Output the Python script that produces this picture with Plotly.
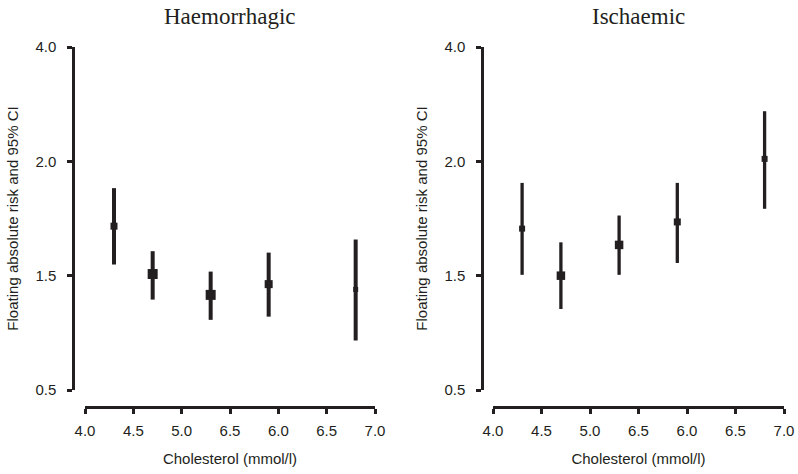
import math
import plotly.graph_objects as go

# Cholesterol groups (mmol/l) and floating absolute risks with 95% CI
chol = [4.3, 4.7, 5.3, 5.9, 6.8]

haem_risk = [1.35, 1.01, 0.89, 0.95, 0.92]
haem_lo = [1.07, 0.865, 0.765, 0.78, 0.675]
haem_hi = [1.70, 1.16, 1.025, 1.15, 1.245]

isch_risk = [1.33, 1.00, 1.205, 1.385, 2.03]
isch_lo = [1.005, 0.817, 1.005, 1.08, 1.50]
isch_hi = [1.755, 1.224, 1.44, 1.755, 2.71]

panel_titles = ["Haemorrhagic", "Ischaemic"]
x_tickvals = [4.0, 4.5, 5.0, 5.5, 6.0, 6.5, 7.0]
x_ticktext = ["4.0", "4.5", "5.0", "6.5", "6.0", "6.5", "7.0"]
y_tickvals = [0.5, 1, 2, 4]
y_ticktext = ["0.5", "1.5", "2.0", "4.0"]

# styling
W, H = 798, 474
INK = "#231f20"
haem_sizes = [7, 10, 10, 8, 5]
isch_sizes = [6, 8.5, 8.5, 7, 6]


def px_x(p):
    return p / W


def px_y(p):
    return 1 - p / H


fig = go.Figure()


def add_panel(idx, risk, lo, hi, sizes, thick):
    suffix = "" if idx == 1 else str(idx)
    fig.add_trace(go.Scatter(
        x=chol, y=risk, mode="markers",
        xaxis="x" + suffix, yaxis="y" + suffix,
        opacity=1,
        marker=dict(symbol="square", size=sizes, color=INK, opacity=1,
                    line=dict(width=0)),
        error_y=dict(type="data", symmetric=False,
                     array=[h - r for h, r in zip(hi, risk)],
                     arrayminus=[r - l for r, l in zip(risk, lo)],
                     thickness=thick, width=0, color=INK),
        showlegend=False, cliponaxis=False,
    ))


add_panel(1, haem_risk, haem_lo, haem_hi, haem_sizes, 4)
add_panel(2, isch_risk, isch_lo, isch_hi, isch_sizes, 3.3)

font = dict(family="Liberation Sans, Arial, sans-serif", size=15, color=INK)

panels = [
    dict(xd=(85, 375), yaxis_pos=73),
    dict(xd=(493, 784), yaxis_pos=482),
]
y_dom = [px_y(390), px_y(47)]
layout = dict(
    width=W, height=H,
    margin=dict(l=0, r=0, t=0, b=0, autoexpand=False),
    paper_bgcolor="white", plot_bgcolor="white",
    font=font, showlegend=False,
    annotations=[],
)

for i, p in enumerate(panels, start=1):
    sfx = "" if i == 1 else str(i)
    layout["xaxis" + sfx] = dict(
        domain=[px_x(p["xd"][0]), px_x(p["xd"][1])],
        range=[4.0, 7.0], anchor="free", position=px_y(407),
        tickvals=x_tickvals, ticktext=x_ticktext,
        showline=True, linewidth=2.5, linecolor=INK,
        ticks="outside", ticklen=5, tickwidth=2.5, tickcolor=INK,
        ticklabelstandoff=4, automargin=False,
        showgrid=False, zeroline=False,
        title=dict(text="Cholesterol (mmol/l)", standoff=15, font=font),
        tickfont=font,
    )
    layout["yaxis" + sfx] = dict(
        domain=y_dom, type="log",
        range=[math.log10(0.5), math.log10(4)],
        anchor="free", position=px_x(p["yaxis_pos"]),
        tickvals=y_tickvals, ticktext=y_ticktext,
        showline=True, linewidth=2.5, linecolor=INK,
        ticks="outside", ticklen=5, tickwidth=2.5, tickcolor=INK,
        ticklabelstandoff=8, automargin=False,
        showgrid=False, zeroline=False,
        title=dict(text="Floating absolute risk and 95% CI", standoff=12,
                   font=dict(family=font["family"], size=15, color=INK)),
        tickfont=font,
    )
    layout["annotations"].append(dict(
        text=panel_titles[i - 1], xref="paper", yref="paper",
        x=px_x((p["xd"][0] + p["xd"][1]) / 2), y=px_y(16),
        xanchor="center", yanchor="middle", showarrow=False,
        font=dict(family="Liberation Serif, Times New Roman, serif", size=23, color=INK),
    ))

fig.update_layout(**layout)
fig.write_html("out.html")
